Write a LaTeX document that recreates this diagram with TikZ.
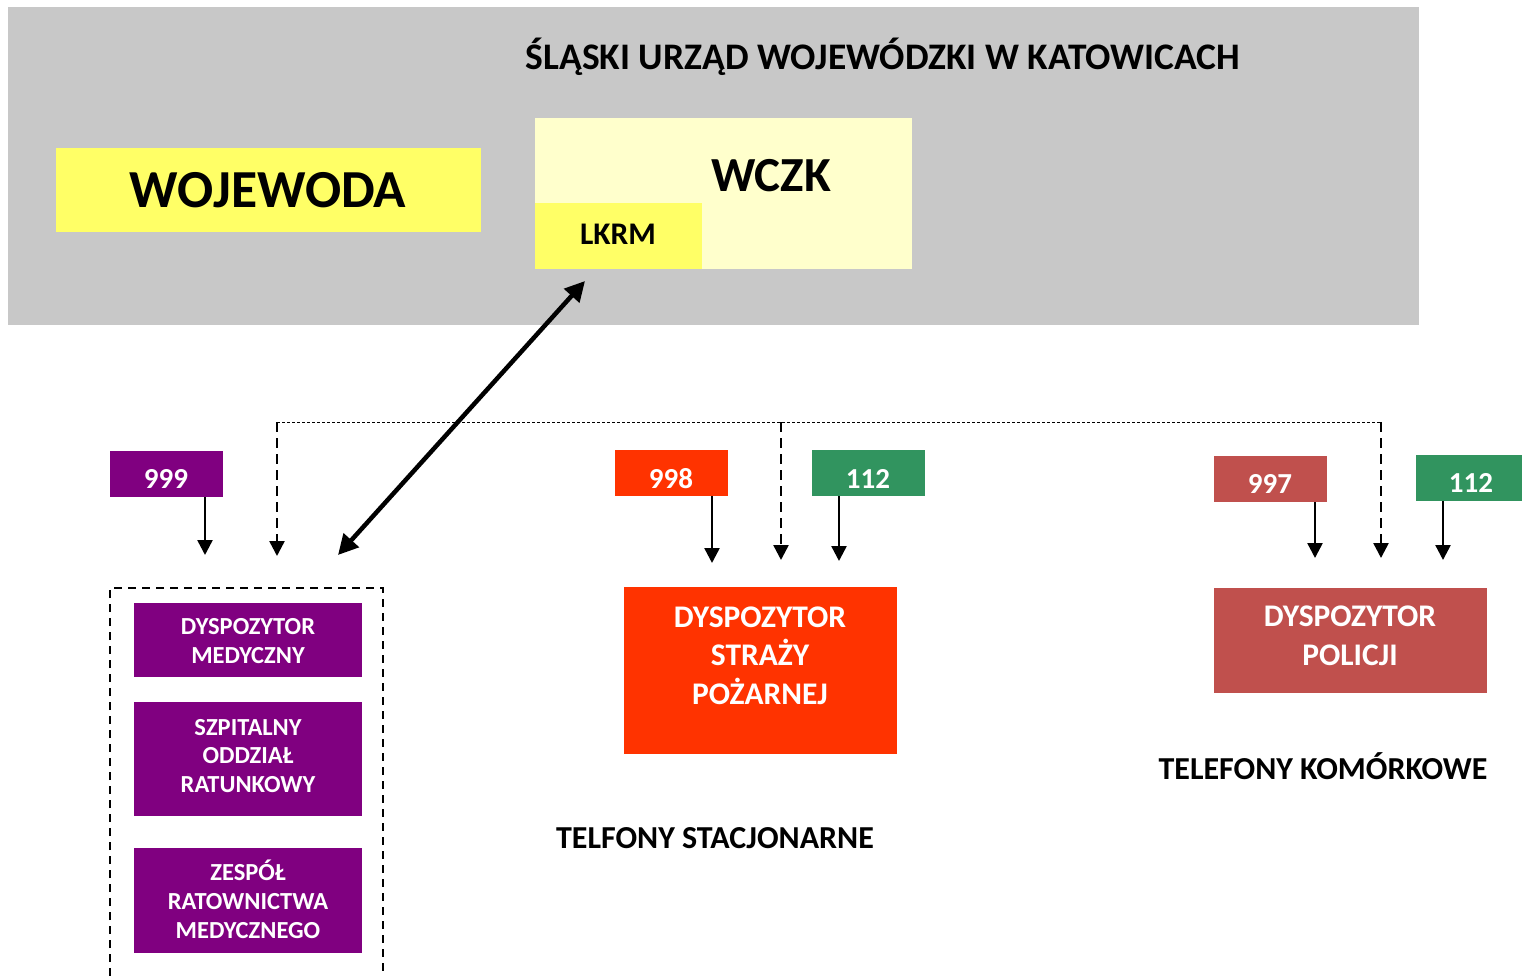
\documentclass[tikz,border=0pt]{standalone}
\usepackage{fontspec}
\setmainfont{Carlito}
\usetikzlibrary{arrows.meta}
\definecolor{bggray}{HTML}{C8C8C8}
\definecolor{yel}{HTML}{FFFF66}
\definecolor{paleyel}{HTML}{FFFFCC}
\definecolor{medpurple}{HTML}{800080}
\definecolor{firered}{HTML}{FF3300}
\definecolor{polred}{HTML}{C0504D}
\definecolor{grn}{HTML}{31945F}
\begin{document}
\begin{tikzpicture}[x=1pt,y=-1pt,
  box/.style={inner sep=0pt, outer sep=0pt, anchor=north west, draw=none},
  txt/.style={inner sep=0pt, anchor=base, font=\bfseries},
  wtxt/.style={txt, text=white, align=center},
  arr/.style={-{Triangle[width=15pt,length=15pt]}, line width=2.5pt},
  dasharr/.style={arr, dash pattern=on 10pt off 6pt},
  dotline/.style={line width=1pt, dash pattern=on 3pt off 2pt},
  dashbox/.style={line width=2pt, dash pattern=on 8pt off 6pt},
  dblarr/.style={{Triangle[width=20pt,length=20pt]}-{Triangle[width=20pt,length=20pt]}, line width=4.5pt}
]
\useasboundingbox (0,0) rectangle (1522,976);

% top area
\node[box, fill=bggray, minimum width=1411pt, minimum height=318pt] (urzad) at (8,7) {};
\node[txt, font=\bfseries\fontsize{37.5}{44}\selectfont] (title) at (883,70) {ŚLĄSKI URZĄD WOJEWÓDZKI W KATOWICACH};

\node[box, fill=yel, minimum width=425pt, minimum height=84pt] (woj) at (56,148) {};
\node[txt, font=\bfseries\fontsize{53.5}{60}\selectfont] (wojt) at (268,208) {WOJEWODA};

\node[box, fill=paleyel, minimum width=377pt, minimum height=151pt] (wczk) at (535,118) {};
\node[txt, font=\bfseries\fontsize{49}{56}\selectfont] (wczkt) at (771,192) {WCZK};

\node[box, fill=yel, minimum width=167pt, minimum height=66pt] (lkrm) at (535,203) {};
\node[txt, font=\bfseries\fontsize{31.5}{36}\selectfont] (lkrmt) at (618,245) {LKRM};

% number boxes
\node[box, fill=medpurple, minimum width=113pt, minimum height=46pt] (n999) at (110,451) {};
\node[wtxt, font=\bfseries\fontsize{29}{34}\selectfont] at (166,488) {999};
\node[box, fill=firered, minimum width=113pt, minimum height=46pt] (n998) at (615,450) {};
\node[wtxt, font=\bfseries\fontsize{29}{34}\selectfont] at (671,488) {998};
\node[box, fill=grn, minimum width=113pt, minimum height=46pt] (n112a) at (812,450) {};
\node[wtxt, font=\bfseries\fontsize{29}{34}\selectfont] at (868,488) {112};
\node[box, fill=polred, minimum width=113pt, minimum height=46pt] (n997) at (1214,456) {};
\node[wtxt, font=\bfseries\fontsize{29}{34}\selectfont] at (1270,493) {997};
\node[box, fill=grn, minimum width=106pt, minimum height=46pt] (n112b) at (1416,455) {};
\node[wtxt, font=\bfseries\fontsize{29}{34}\selectfont] at (1471,492) {112};

% arrow end points
\coordinate (a999) at (205,555);
\coordinate (a998) at (712,563);
\coordinate (a112a) at (839,561);
\coordinate (a997) at (1315,558);
\coordinate (a112b) at (1443,560);
\draw[arr] (n999.south -| a999) -- (a999);
\draw[arr] (n998.south -| a998) -- (a998);
\draw[arr] (n112a.south -| a112a) -- (a112a);
\draw[arr] (n997.south -| a997) -- (a997);
\draw[arr] (n112b.south -| a112b) -- (a112b);

% dotted distribution line
\coordinate (d1) at (277,422);
\coordinate (d2) at (781,422);
\coordinate (d3) at (1381,422);
\coordinate (e1) at (277,556);
\coordinate (e2) at (781,560);
\coordinate (e3) at (1381,558);
\draw[dotline] (d1) -- (d3);
\draw[dasharr] (d1) -- (e1);
\draw[dasharr] (d2) -- (e2);
\draw[dasharr] (d3) -- (e3);

% double arrow
\coordinate (dblA) at (338,555);
\coordinate (dblB) at (585,281);
\draw[dblarr] (dblA) -- (dblB);

% dashed group box
\draw[dashbox] (110,976) -- (110,588) -- (383,588) -- (383,976);

% medical boxes
\node[box, fill=medpurple, minimum width=228pt, minimum height=74pt] (dm) at (134,603) {};
\node[wtxt, font=\bfseries\fontsize{24.5}{29}\selectfont] at (248,663) {DYSPOZYTOR\\MEDYCZNY};
\node[box, fill=medpurple, minimum width=228pt, minimum height=114pt] (sor) at (134,702) {};
\node[wtxt, font=\bfseries\fontsize{24.5}{28.5}\selectfont] at (248,792) {SZPITALNY\\ODDZIAŁ\\RATUNKOWY};
\node[box, fill=medpurple, minimum width=228pt, minimum height=105pt] (zrm) at (134,848) {};
\node[wtxt, font=\bfseries\fontsize{24.5}{29}\selectfont] at (248,938) {ZESPÓŁ\\RATOWNICTWA\\MEDYCZNEGO};

% fire and police
\node[box, fill=firered, minimum width=273pt, minimum height=167pt] (psp) at (624,587) {};
\node[wtxt, font=\bfseries\fontsize{31.5}{38.5}\selectfont] at (760,704) {DYSPOZYTOR\\STRAŻY\\POŻARNEJ};
\node[box, fill=polred, minimum width=273pt, minimum height=105pt] (pol) at (1214,588) {};
\node[wtxt, font=\bfseries\fontsize{31.5}{38.5}\selectfont] at (1350,665) {DYSPOZYTOR\\POLICJI};

% captions
\node[txt, font=\bfseries\fontsize{32}{36}\selectfont] (stac) at (715,848) {TELFONY STACJONARNE};
\node[txt, font=\bfseries\fontsize{32}{36}\selectfont] (kom) at (1323,779) {TELEFONY KOMÓRKOWE};
\end{tikzpicture}
\end{document}
